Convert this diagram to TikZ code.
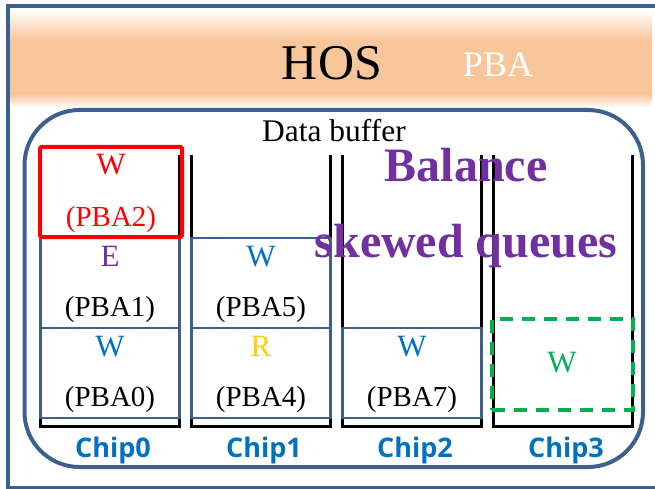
\documentclass[tikz,border=0pt]{standalone}
\usepackage{fontspec}
\setmainfont{Liberation Serif}
\newfontfamily\chipfont{Open Sans}
\definecolor{frameblue}{HTML}{3C6190}
\definecolor{cellblue}{HTML}{40608C}
\definecolor{bandorange}{HTML}{F9C69C}
\definecolor{wblue}{HTML}{0070C0}
\definecolor{epurple}{HTML}{7030A0}
\definecolor{ryellow}{HTML}{FFD200}
\definecolor{wgreen}{HTML}{00B050}
\begin{document}
\begin{tikzpicture}[x=1pt, y=-1pt, every node/.style={inner sep=0pt},
  cell/.style={draw=cellblue, line width=2.2pt, minimum width=139pt, minimum height=90pt},
  op/.style={font=\fontsize{31}{33}\selectfont, anchor=base},
  tag/.style={font=\fontsize{29}{31}\selectfont, anchor=base},
  chip/.style={font=\chipfont\bfseries\fontsize{27}{30}\selectfont, text=wblue, anchor=base},
  queue/.style={line width=3pt}]
\useasboundingbox (0,0) rectangle (655,489);
% host band
\begin{scope}
\clip[rounded corners=8pt] (10,9) rectangle (652,108);
\shade[top color=white, bottom color=bandorange] (0,9) rectangle (660,40);
\fill[bandorange] (0,40) rectangle (660,94);
\shade[top color=bandorange, bottom color=white] (0,94) rectangle (660,108);
\end{scope}
\draw[frameblue, line width=4pt] (7.5,6.5) rectangle (690,487.5);
\node[font=\fontsize{50}{52}\selectfont, anchor=base] (hos) at (332,80) {HOS};
\node[font=\fontsize{36}{40}\selectfont, text=white, anchor=base] (pba) at (498,77) {PBA};
% data buffer
\draw[frameblue, line width=4pt, rounded corners=55pt] (24.5,110) rectangle (643,467);
\node[font=\fontsize{31.5}{33}\selectfont, anchor=base] (buf) at (334,142) {Data buffer};
% queues, one per chip
\foreach \i in {0,...,3} {
  \draw[queue] ({40.5+151*\i},155) -- ({40.5+151*\i},426.5) -- ({179.5+151*\i},426.5) -- ({179.5+151*\i},155);
  \node[chip] (chip\i) at ({113+151*\i},457) {Chip\i};
}
% queued requests
\foreach \n/\x/\y/\o/\col/\p in {c00/110/373/W/wblue/PBA0, c01/110/283/E/epurple/PBA1,
    c10/261/373/R/ryellow/PBA4, c11/261/283/W/wblue/PBA5, c20/412/373/W/wblue/PBA7} {
  \node[cell] (\n) at (\x,\y) {};
  \node[op, text=\col] at ([yshift=-30pt]\n.north) {\o};
  \node[tag] at ([yshift=13pt]\n.south) {(\p)};
}
\node[draw=red, line width=4pt, rounded corners=1.5pt, minimum width=142pt, minimum height=90pt] (new) at (111,192) {};
\node[op, text=red] at ([yshift=-30pt]new.north) {W};
\node[tag, text=red] at ([yshift=13pt]new.south) {(PBA2)};
\node[draw=wgreen, line width=4pt, dash pattern=on 13pt off 9pt, minimum width=141pt, minimum height=91pt] (moved) at (562.5,364.5) {};
\node[op, text=wgreen] at (562,372) {W};
% note
\node[font=\bfseries\fontsize{48}{50}\selectfont, text=epurple, anchor=base] (bal) at (466,182) {Balance};
\node[font=\bfseries\fontsize{48}{50}\selectfont, text=epurple, anchor=base] (skew) at (466,257) {skewed queues};
\end{tikzpicture}
\end{document}
